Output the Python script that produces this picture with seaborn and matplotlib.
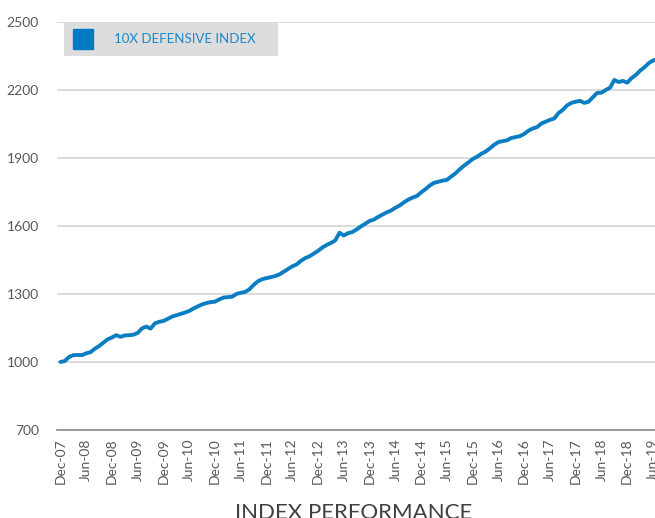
import numpy as np
import pandas as pd
import matplotlib
matplotlib.use("Agg")
import matplotlib.pyplot as plt
import seaborn as sns
from matplotlib.lines import Line2D

# monthly index level, Dec-07 .. Jul-19
index_values = [
    1000, 1004, 1022, 1030, 1031, 1030, 1038, 1043, 1058, 1070, 1085, 1100,
    1108, 1118, 1111, 1117, 1118, 1120, 1128, 1148, 1156, 1147, 1170, 1177,
    1181, 1190, 1200, 1206, 1212, 1218, 1225, 1236, 1245, 1254, 1260, 1264,
    1266, 1276, 1284, 1286, 1288, 1300, 1305, 1309, 1320, 1340, 1356, 1365,
    1370, 1374, 1379, 1386, 1398, 1410, 1422, 1430, 1446, 1458, 1466, 1478,
    1490, 1505, 1516, 1525, 1536, 1570, 1558, 1568, 1573, 1585, 1598, 1610,
    1622, 1628, 1640, 1650, 1660, 1668, 1680, 1690, 1704, 1716, 1725, 1732,
    1748, 1762, 1778, 1790, 1795, 1800, 1803, 1818, 1832, 1850, 1866, 1880,
    1895, 1905, 1918, 1928, 1942, 1958, 1970, 1974, 1978, 1988, 1992, 1996,
    2006, 2020, 2030, 2036, 2052, 2060, 2068, 2074, 2098, 2112, 2132, 2143,
    2148, 2152, 2143, 2148, 2168, 2187, 2188, 2200, 2210, 2244, 2235, 2240,
    2232, 2252, 2266, 2285, 2300, 2318, 2330, 2336,
]
tick_labels = [
    "Dec-07", "Jun-08", "Dec-08", "Jun-09", "Dec-09", "Jun-10", "Dec-10",
    "Jun-11", "Dec-11", "Jun-12", "Dec-12", "Jun-13", "Dec-13", "Jun-14",
    "Dec-14", "Jun-15", "Dec-15", "Jun-16", "Dec-16", "Jun-17", "Dec-17",
    "Jun-18", "Dec-18", "Jun-19",
]
y_ticks = [700, 1000, 1300, 1600, 1900, 2200, 2500]
series_name = "10X DEFENSIVE INDEX"

LINE_BLUE = "#0B7DC2"
FONT = ["Lato", "DejaVu Sans"]

sns.set_style("white")
plt.rcParams["font.family"] = FONT

df = pd.DataFrame({"month": np.arange(len(index_values)), "value": index_values})

fig = plt.figure(figsize=(6.55, 5.18), dpi=100)
ax = fig.add_axes([0.087, 0.17, 0.923, 0.7876])

sns.lineplot(data=df, x="month", y="value", ax=ax, color=LINE_BLUE,
             linewidth=2.8, solid_capstyle="round", legend=False)

ax.set_xlim(-0.8, 140)
ax.set_ylim(700, 2500)
ax.set_yticks(y_ticks)
ax.set_xticks(np.arange(len(tick_labels)) * 6)
ax.set_xticklabels(tick_labels, rotation=90)
ax.set_xlabel("")
ax.set_ylabel("")

ax.yaxis.grid(True, color="#D9D9D9", linewidth=1.3)
ax.set_axisbelow(True)
for side in ["top", "right", "left"]:
    ax.spines[side].set_visible(False)
ax.spines["bottom"].set_color("#8C8C8C")
ax.spines["bottom"].set_linewidth(1.2)
ax.tick_params(axis="both", length=0, labelsize=10, colors="#595959")
ax.tick_params(axis="y", pad=13)
ax.tick_params(axis="x", pad=6)

# legend box in the upper-left corner
handle = Line2D([], [], marker="s", linestyle="", color="#007AC2",
                markersize=14)
leg = ax.legend([handle], [series_name], loc="upper left",
                bbox_to_anchor=(0.0121, 0.998, 0.354, 0.0),
                mode="expand", borderaxespad=0, borderpad=0.8,
                handlelength=1.3, handletextpad=1.65, fontsize=9.5,
                frameon=True, fancybox=False)
leg.get_frame().set_facecolor("#DDDDDD")
leg.get_frame().set_edgecolor("none")
leg.get_frame().set_alpha(1)
for t in leg.get_texts():
    t.set_color("#1E88C8")

fig.text(0.5405, -0.001, "INDEX PERFORMANCE", ha="center", va="baseline",
         fontsize=16, color="#404040")

fig.savefig("out.png", dpi=100)
